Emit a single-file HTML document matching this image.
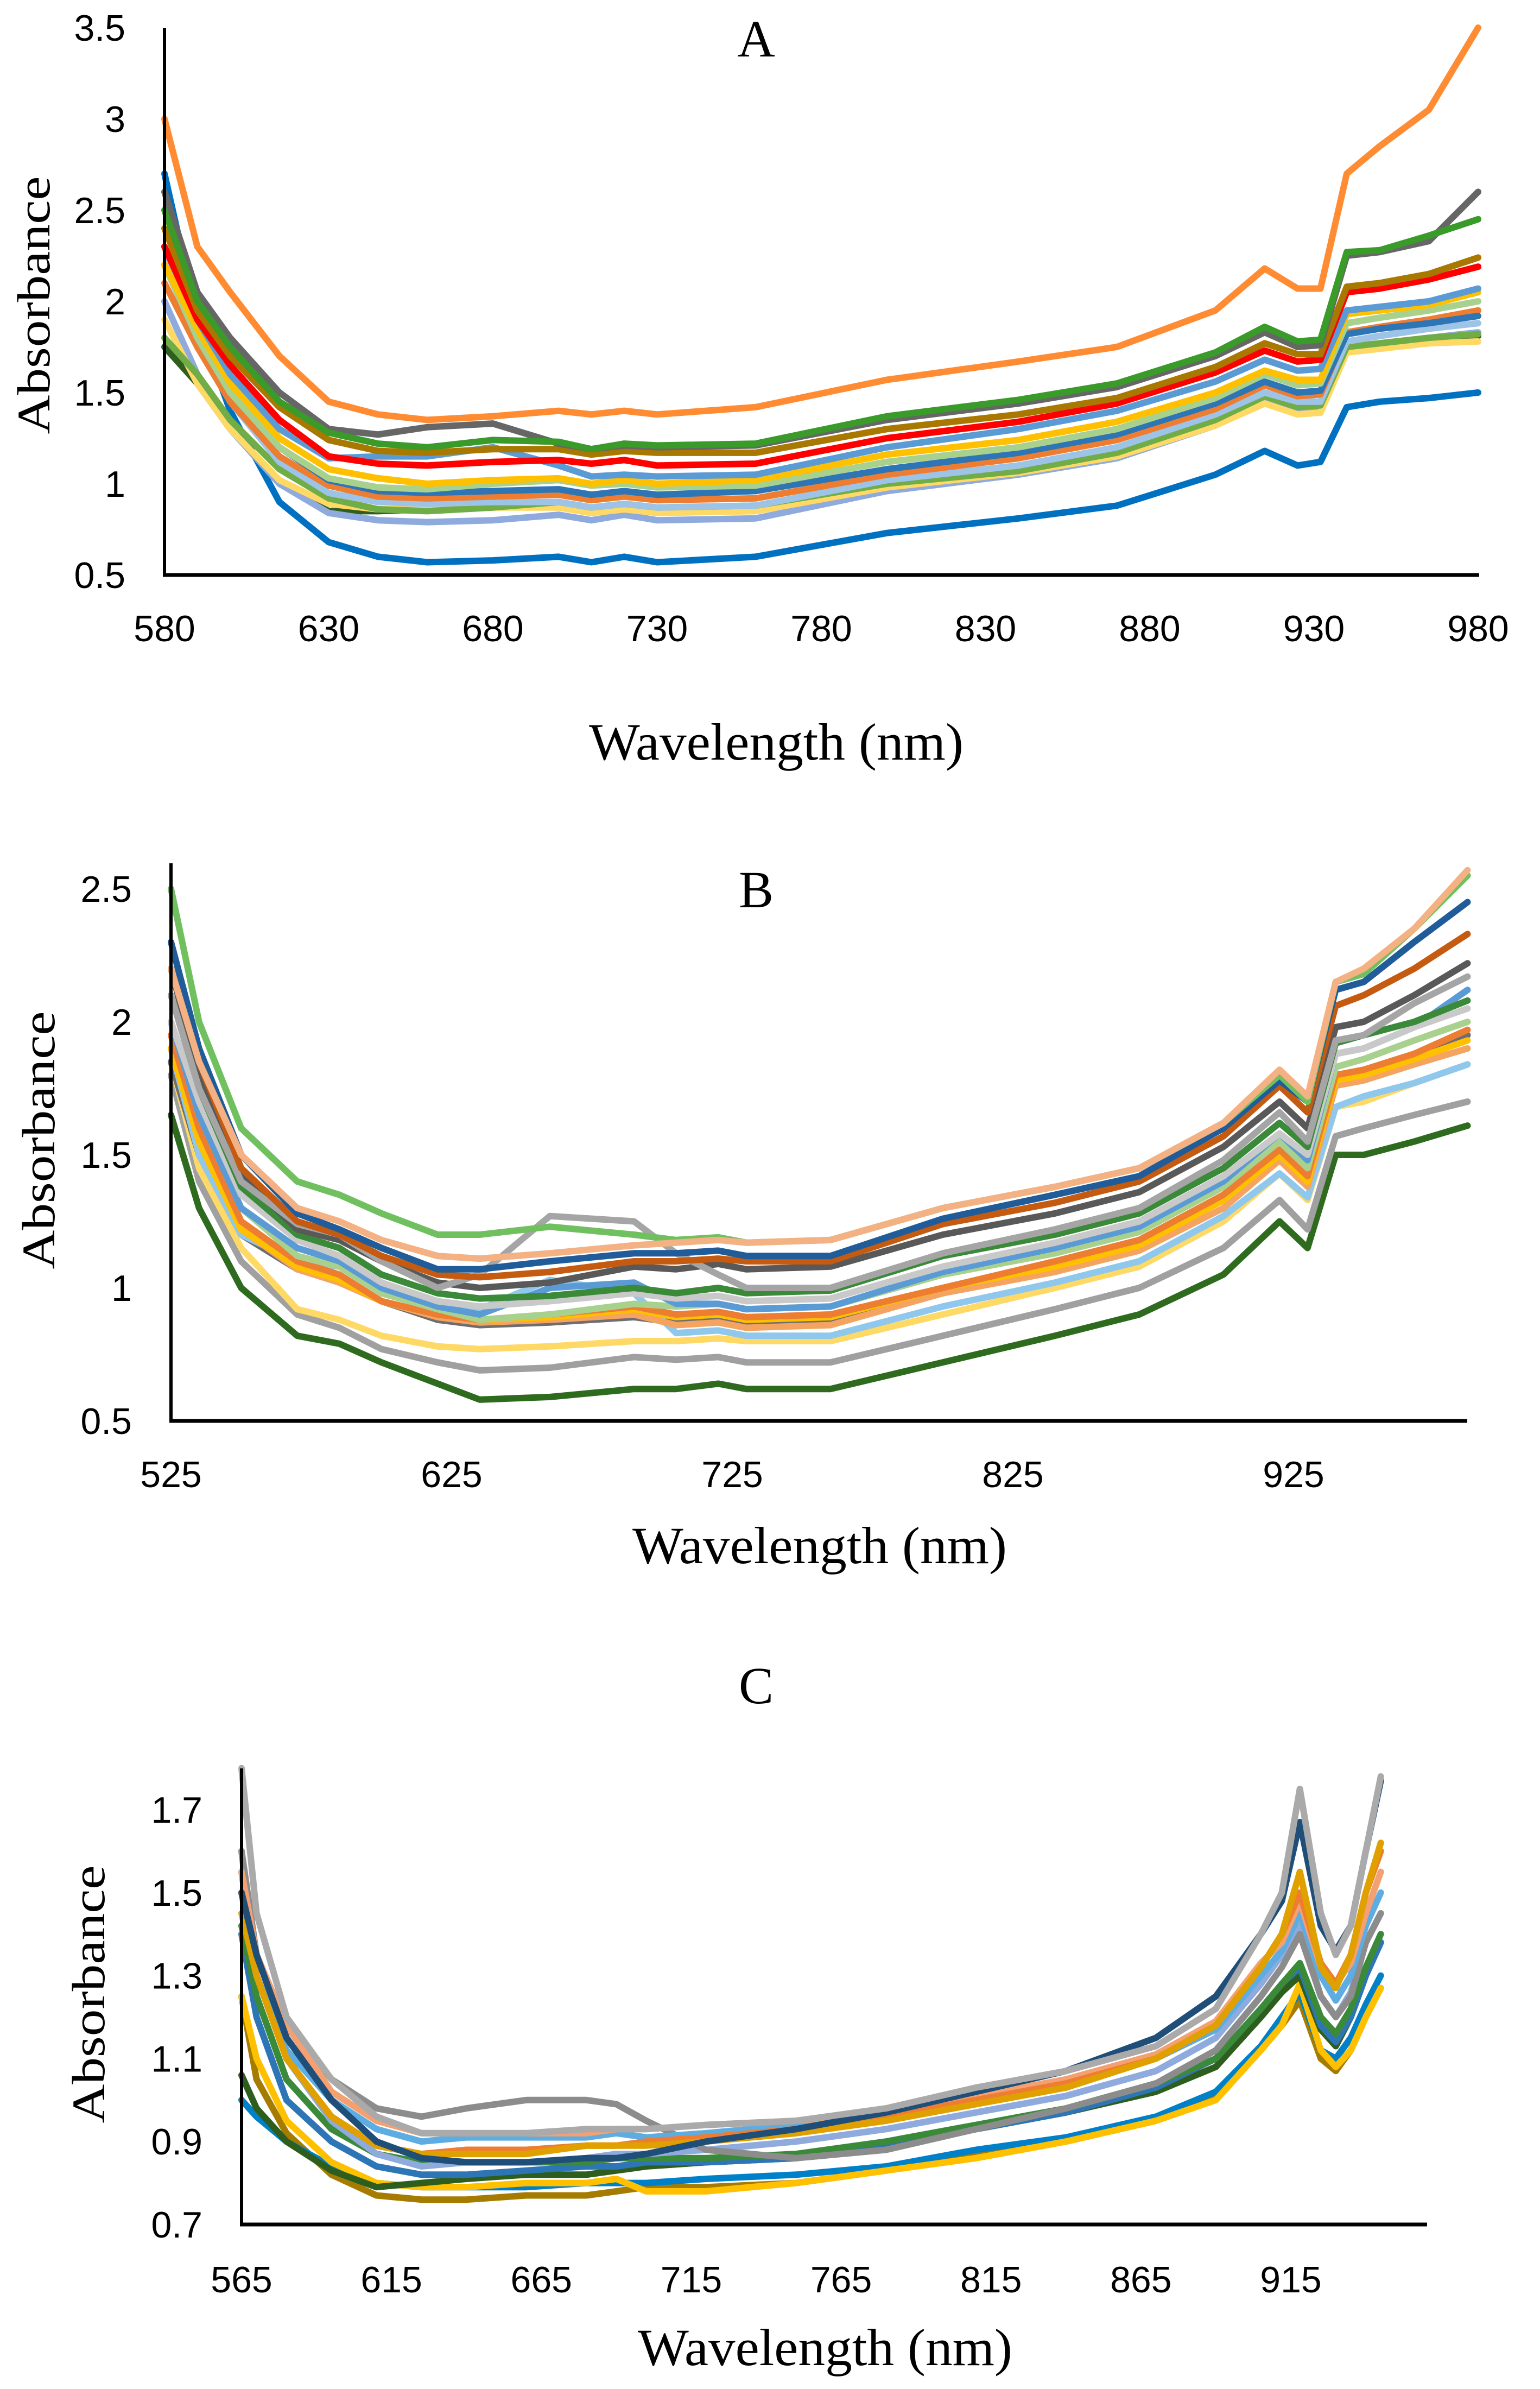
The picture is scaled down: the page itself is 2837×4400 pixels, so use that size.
<!DOCTYPE html>
<html><head><meta charset="utf-8"><style>
html,body{margin:0;padding:0;background:#fff}
svg{display:block}
.tick{font-family:"Liberation Sans Narrow","Liberation Sans",sans-serif;font-size:68px;fill:#000}
.ttl{font-family:"Liberation Serif",serif;fill:#000}
</style></head><body>
<svg id="fig" width="2837" height="4400" viewBox="0 0 2837 4400" xmlns="http://www.w3.org/2000/svg"></svg>
<script>
// ---------- Chart A data ----------
const wlA=[580,590,600,615,630,645,660,680,700,710,720,730,760,800,840,870,900,915,925,932,940,950,965,980];
const colorsA=["#0070C0","#2F5E1E","#8FAADC","#FFD966","#70AD47","#9DC3E6","#ED7D31","#2E75B6","#A9D18E","#FFC000","#5B9BD5","#FF0000","#A87800","#666666","#3A9A2A","#FF8C33"];
const seriesA=[
[2.7,1.9,1.4,0.9,0.68,0.6,0.57,0.58,0.6,0.57,0.6,0.57,0.6,0.73,0.81,0.88,1.05,1.18,1.1,1.12,1.42,1.45,1.47,1.5],
[1.75,1.55,1.3,1.0,0.85,0.85,0.86,0.89,0.88,0.85,0.87,0.85,0.86,0.98,1.06,1.15,1.32,1.45,1.39,1.4,1.74,1.76,1.79,1.81],
[2.0,1.6,1.3,1.0,0.84,0.8,0.79,0.8,0.83,0.8,0.83,0.8,0.81,0.96,1.05,1.14,1.32,1.46,1.4,1.41,1.75,1.77,1.8,1.83],
[1.9,1.55,1.3,1.02,0.89,0.86,0.86,0.87,0.87,0.84,0.86,0.84,0.85,0.98,1.06,1.15,1.32,1.44,1.38,1.39,1.72,1.74,1.77,1.78],
[1.8,1.6,1.35,1.08,0.92,0.86,0.85,0.87,0.9,0.87,0.89,0.87,0.88,1.0,1.07,1.17,1.35,1.48,1.42,1.43,1.75,1.77,1.8,1.82],
[2.3,1.8,1.45,1.12,0.95,0.9,0.89,0.9,0.9,0.87,0.89,0.87,0.88,1.02,1.1,1.2,1.38,1.5,1.45,1.45,1.78,1.81,1.85,1.88],
[2.1,1.75,1.45,1.15,0.99,0.93,0.92,0.93,0.94,0.91,0.93,0.91,0.92,1.05,1.14,1.24,1.41,1.54,1.48,1.49,1.83,1.86,1.9,1.95],
[2.2,1.8,1.5,1.2,1.02,0.96,0.95,0.96,0.97,0.94,0.96,0.94,0.96,1.08,1.17,1.27,1.44,1.56,1.5,1.51,1.82,1.85,1.88,1.92],
[2.2,1.8,1.5,1.2,1.03,0.98,0.97,1.0,1.02,0.99,1.0,0.98,0.99,1.12,1.2,1.3,1.47,1.6,1.54,1.55,1.88,1.91,1.95,2.0],
[2.2,1.85,1.55,1.25,1.08,1.03,1.0,1.02,1.03,1.0,1.02,1.0,1.02,1.16,1.24,1.34,1.5,1.62,1.57,1.57,1.93,1.95,1.98,2.05],
[2.3,1.9,1.6,1.3,1.14,1.15,1.15,1.2,1.1,1.04,1.05,1.04,1.05,1.2,1.3,1.4,1.56,1.68,1.62,1.63,1.95,1.97,2.0,2.07],
[2.3,1.9,1.65,1.35,1.15,1.11,1.1,1.12,1.13,1.11,1.13,1.1,1.11,1.25,1.34,1.44,1.61,1.73,1.67,1.68,2.05,2.07,2.12,2.19],
[2.4,1.95,1.7,1.42,1.24,1.18,1.17,1.19,1.19,1.16,1.18,1.17,1.17,1.3,1.38,1.47,1.64,1.77,1.71,1.71,2.08,2.1,2.15,2.24],
[2.6,2.05,1.8,1.5,1.3,1.27,1.31,1.33,1.22,1.19,1.21,1.2,1.21,1.35,1.44,1.53,1.7,1.83,1.75,1.76,2.25,2.27,2.33,2.6],
[2.5,2.0,1.75,1.45,1.28,1.22,1.2,1.24,1.23,1.19,1.22,1.21,1.22,1.37,1.46,1.55,1.72,1.86,1.78,1.79,2.27,2.28,2.36,2.45],
[3.0,2.3,2.05,1.7,1.45,1.38,1.35,1.37,1.4,1.38,1.4,1.38,1.42,1.57,1.67,1.75,1.95,2.18,2.07,2.07,2.7,2.85,3.05,3.5]
];
const xTicksA=[580,630,680,730,780,830,880,930,980];
const yTicksA=[0.5,1,1.5,2,2.5,3,3.5];
const yTickLabelsA=["0.5","1","1.5","2","2.5","3","3.5"];

// ---------- Chart B data ----------
const wlB=[525,535,550,570,585,600,620,635,660,690,705,720,730,760,800,840,870,900,920,930,940,950,968,987];
const colorsB=["#2E6B1F","#A0A0A0","#FFD966","#6E6E6E","#8FC8EC","#F4A460","#FFC000","#ED7D31","#A9D18E","#5B9BD5","#C9C9C9","#3A8A3A","#595959","#A5A5A5","#C55A11","#1F5C99","#70C060","#F4B183"];
const seriesB=[
[1.65,1.3,1.0,0.82,0.79,0.72,0.64,0.58,0.59,0.62,0.62,0.64,0.62,0.62,0.72,0.82,0.9,1.05,1.25,1.15,1.5,1.5,1.55,1.61],
[1.8,1.4,1.1,0.9,0.85,0.77,0.72,0.69,0.7,0.74,0.73,0.74,0.72,0.72,0.82,0.92,1.0,1.15,1.33,1.22,1.57,1.6,1.65,1.7],
[1.85,1.45,1.15,0.92,0.88,0.82,0.78,0.77,0.78,0.8,0.8,0.81,0.8,0.8,0.9,1.0,1.08,1.25,1.43,1.33,1.68,1.7,1.77,1.84],
[1.85,1.5,1.2,1.07,1.03,0.95,0.88,0.86,0.87,0.89,0.87,0.88,0.87,0.88,1.0,1.08,1.16,1.33,1.5,1.4,1.77,1.8,1.86,1.95],
[1.9,1.5,1.2,1.1,1.08,0.98,0.92,0.92,1.03,0.98,0.83,0.84,0.82,0.82,0.93,1.02,1.1,1.27,1.43,1.34,1.68,1.72,1.77,1.84],
[1.9,1.55,1.22,1.07,1.02,0.95,0.89,0.87,0.88,0.9,0.86,0.87,0.85,0.86,0.98,1.06,1.14,1.3,1.48,1.38,1.76,1.78,1.84,1.9],
[1.9,1.55,1.22,1.08,1.03,0.95,0.9,0.88,0.89,0.92,0.89,0.9,0.88,0.89,1.0,1.08,1.16,1.33,1.5,1.4,1.78,1.8,1.86,1.93],
[1.95,1.6,1.25,1.1,1.05,0.95,0.9,0.88,0.9,0.93,0.9,0.91,0.89,0.9,1.0,1.1,1.18,1.35,1.52,1.42,1.8,1.82,1.88,1.97],
[2.0,1.65,1.3,1.12,1.08,0.98,0.92,0.88,0.9,0.94,0.93,0.94,0.92,0.93,1.05,1.13,1.21,1.38,1.55,1.45,1.83,1.86,1.93,2.0],
[2.0,1.65,1.3,1.15,1.1,1.0,0.93,0.9,1.0,1.02,0.94,0.94,0.92,0.93,1.06,1.15,1.23,1.4,1.58,1.48,1.88,1.9,1.98,2.12],
[2.0,1.7,1.35,1.18,1.12,1.02,0.95,0.93,0.95,0.98,0.96,0.97,0.95,0.96,1.08,1.17,1.25,1.42,1.58,1.5,1.88,1.9,1.98,2.05],
[2.1,1.75,1.38,1.2,1.15,1.05,0.98,0.96,0.97,1.0,0.98,1.0,0.98,0.99,1.12,1.2,1.28,1.45,1.62,1.53,1.92,1.95,2.0,2.08],
[2.2,1.8,1.42,1.22,1.18,1.1,1.02,1.0,1.02,1.08,1.07,1.09,1.07,1.08,1.2,1.28,1.36,1.53,1.7,1.6,1.98,2.0,2.1,2.22],
[2.1,1.75,1.4,1.24,1.2,1.1,1.0,1.05,1.27,1.25,1.13,1.05,1.0,1.0,1.13,1.22,1.3,1.48,1.66,1.55,1.93,1.95,2.07,2.17],
[2.2,1.85,1.45,1.25,1.2,1.12,1.05,1.04,1.06,1.1,1.1,1.11,1.1,1.1,1.24,1.32,1.4,1.57,1.76,1.66,2.06,2.1,2.2,2.33],
[2.3,1.9,1.5,1.28,1.22,1.15,1.07,1.07,1.1,1.13,1.13,1.14,1.12,1.12,1.26,1.35,1.42,1.6,1.78,1.7,2.12,2.15,2.3,2.45],
[2.5,2.0,1.6,1.4,1.35,1.28,1.2,1.2,1.23,1.2,1.18,1.19,1.17,1.18,1.3,1.38,1.45,1.62,1.8,1.7,2.15,2.18,2.35,2.55],
[2.2,1.85,1.5,1.3,1.25,1.18,1.12,1.11,1.13,1.16,1.17,1.18,1.17,1.18,1.3,1.38,1.45,1.62,1.82,1.72,2.15,2.2,2.35,2.57]
];
const xTicksB=[525,625,725,825,925];
const yTicksB=[0.5,1,1.5,2,2.5];
const yTickLabelsB=["0.5","1","1.5","2","2.5"];

// ---------- Chart C data ----------
const wlC=[565,570,580,595,610,625,640,660,680,690,700,720,750,780,810,840,870,890,905,912,918,925,930,935,940,945];
const colorsC=["#A67C00","#0080C8","#FFC000","#2E5E1E","#2E75B6","#3A8A3A","#8FAADC","#8C8C8C","#5DADE2","#F4A070","#ED7D31","#E0A000","#1F4E79","#AAAAAA"];
const seriesC=[
[1.25,1.05,0.92,0.82,0.77,0.76,0.76,0.77,0.77,0.78,0.79,0.79,0.8,0.83,0.87,0.9,0.95,1.01,1.12,1.18,1.24,1.1,1.07,1.12,1.2,1.27],
[1.0,0.96,0.9,0.84,0.8,0.79,0.79,0.79,0.8,0.8,0.8,0.81,0.82,0.84,0.88,0.91,0.96,1.02,1.13,1.2,1.26,1.12,1.1,1.15,1.23,1.3],
[1.25,1.1,0.95,0.85,0.8,0.79,0.79,0.8,0.8,0.81,0.78,0.78,0.8,0.83,0.86,0.9,0.95,1.0,1.12,1.18,1.28,1.12,1.08,1.12,1.2,1.27],
[1.06,0.98,0.9,0.83,0.79,0.8,0.81,0.82,0.82,0.83,0.84,0.85,0.86,0.89,0.93,0.97,1.02,1.08,1.2,1.26,1.3,1.17,1.13,1.2,1.3,1.38],
[1.4,1.2,1.0,0.9,0.84,0.82,0.82,0.83,0.84,0.84,0.85,0.85,0.86,0.89,0.93,0.97,1.03,1.1,1.22,1.28,1.32,1.18,1.14,1.2,1.3,1.38],
[1.42,1.25,1.05,0.93,0.87,0.85,0.85,0.85,0.85,0.86,0.86,0.86,0.87,0.9,0.94,0.98,1.04,1.1,1.22,1.28,1.33,1.2,1.16,1.22,1.32,1.4],
[1.6,1.3,1.1,0.95,0.87,0.84,0.85,0.85,0.86,0.87,0.87,0.88,0.9,0.93,0.97,1.01,1.07,1.15,1.28,1.35,1.42,1.25,1.2,1.26,1.38,1.45],
[1.6,1.35,1.18,1.05,0.98,0.96,0.98,1.0,1.0,0.99,0.95,0.88,0.86,0.88,0.93,0.98,1.04,1.12,1.25,1.32,1.4,1.25,1.2,1.25,1.38,1.45],
[1.55,1.3,1.12,1.0,0.93,0.9,0.91,0.91,0.91,0.92,0.91,0.92,0.94,0.96,1.0,1.04,1.1,1.17,1.3,1.36,1.45,1.3,1.24,1.3,1.42,1.5],
[1.55,1.35,1.18,1.02,0.95,0.92,0.92,0.92,0.92,0.93,0.93,0.94,0.95,0.97,1.01,1.05,1.11,1.19,1.33,1.38,1.48,1.32,1.28,1.33,1.45,1.55],
[1.5,1.3,1.1,0.96,0.89,0.87,0.88,0.88,0.89,0.89,0.9,0.91,0.93,0.96,1.0,1.04,1.1,1.18,1.32,1.4,1.5,1.33,1.28,1.35,1.5,1.6],
[1.45,1.3,1.1,0.96,0.89,0.87,0.87,0.87,0.89,0.89,0.89,0.9,0.92,0.95,0.99,1.03,1.1,1.18,1.32,1.4,1.55,1.32,1.27,1.35,1.5,1.62],
[1.5,1.35,1.15,1.0,0.9,0.86,0.85,0.85,0.86,0.86,0.87,0.9,0.93,0.97,1.02,1.07,1.15,1.25,1.4,1.48,1.67,1.42,1.36,1.42,1.6,1.77],
[1.8,1.45,1.2,1.05,0.96,0.92,0.92,0.92,0.93,0.93,0.93,0.94,0.95,0.98,1.03,1.07,1.13,1.22,1.4,1.5,1.75,1.45,1.35,1.42,1.6,1.78]
];
const xTicksC=[565,615,665,715,765,815,865,915];
const yTicksC=[0.7,0.9,1.1,1.3,1.5,1.7];
const yTickLabelsC=["0.7","0.9","1.1","1.3","1.5","1.7"];

const NS="http://www.w3.org/2000/svg";
const svg=document.getElementById('fig');
function mk(tag,attrs,parent){const e=document.createElementNS(NS,tag);for(const k in attrs)e.setAttribute(k,attrs[k]);(parent||svg).appendChild(e);return e;}

function drawChart(cfg){
  const g=mk('g',{});
  
  
  const sx=v=>cfg.x0+(v-cfg.xmin)/(cfg.xmax-cfg.xmin)*(cfg.x1-cfg.x0);
  const sy=v=>cfg.yb+(v-cfg.ymin)/(cfg.ymax-cfg.ymin)*(cfg.yt-cfg.yb);
  cfg.series.forEach((vals,i)=>{
    let d='';
    vals.forEach((v,j)=>{d+=(j?'L':'M')+sx(cfg.wl[j]).toFixed(1)+','+sy(v).toFixed(1);});
    const p=mk('path',{d:d,fill:'none',stroke:cfg.colors[i],'stroke-width':cfg.sw,'stroke-linejoin':'round','stroke-linecap':'round'},g);
    
    
  });
  const ya=mk('line',{x1:cfg.x0,y1:cfg.axTop,x2:cfg.x0,y2:cfg.yb+3,stroke:'#000','stroke-width':6},g);
  
  
  const xa=mk('line',{x1:cfg.x0-3,y1:cfg.yb,x2:cfg.axRight,y2:cfg.yb,stroke:'#000','stroke-width':7},g);
  
  
  cfg.yTicks.forEach((v,i)=>{
    const t=mk('text',{x:cfg.x0-72,y:sy(v)+24,'text-anchor':'end','class':'tick'},g);
    t.textContent=cfg.yLabels[i];
    
    
  });
  cfg.xTicks.forEach(v=>{
    const t=mk('text',{x:sx(v),y:cfg.xTickY+24,'text-anchor':'middle','class':'tick'},g);
    t.textContent=String(v);
    
    
  });
  const ti=mk('text',{x:1393,y:cfg.titleY+34,'text-anchor':'middle','class':'ttl','font-size':96},g);
  ti.textContent=cfg.title;
  
  
  const xl=mk('text',{x:cfg.xlX,y:cfg.xlY+32,'text-anchor':'middle','class':'ttl','font-size':96,textLength:690,lengthAdjust:'spacingAndGlyphs'},g);
  xl.textContent='Wavelength (nm)';
  
  
  const yl=mk('text',{x:0,y:0,'text-anchor':'middle','class':'ttl','font-size':86,transform:'translate('+(cfg.ylX+30)+','+cfg.ylY+') rotate(-90)',textLength:475,lengthAdjust:'spacingAndGlyphs'},g);
  yl.textContent='Absorbance';
  
  
}

drawChart({name:'chart-a',wl:wlA,series:seriesA,colors:colorsA,sw:12,
  x0:303,x1:2723,xmin:580,xmax:980,yb:1059,yt:51,ymin:0.5,ymax:3.5,
  axTop:52,axRight:2725,xTicks:xTicksA,yTicks:yTicksA,yLabels:yTickLabelsA,
  xTickY:1157,titleY:70,title:'A',xlX:1430,xlY:1367,ylX:61,ylY:562});
drawChart({name:'chart-b',wl:wlB,series:seriesB,colors:colorsB,sw:12,
  x0:315,x1:2383,xmin:525,xmax:925,yb:2617,yt:1637,ymin:0.5,ymax:2.5,
  axTop:1590,axRight:2703,xTicks:xTicksB,yTicks:yTicksB,yLabels:yTickLabelsB,
  xTickY:2715,titleY:1637,title:'B',xlX:1510,xlY:2847,ylX:70,ylY:2100});
drawChart({name:'chart-c',wl:wlC,series:seriesC,colors:colorsC,sw:12,
  x0:445,x1:2378,xmin:565,xmax:915,yb:4097,yt:3333,ymin:0.7,ymax:1.7,
  axTop:3257,axRight:2629,xTicks:xTicksC,yTicks:yTicksC,yLabels:yTickLabelsC,
  xTickY:4198,titleY:3103,title:'C',xlX:1520,xlY:4324,ylX:162,ylY:3673});
</script>
</body></html>
